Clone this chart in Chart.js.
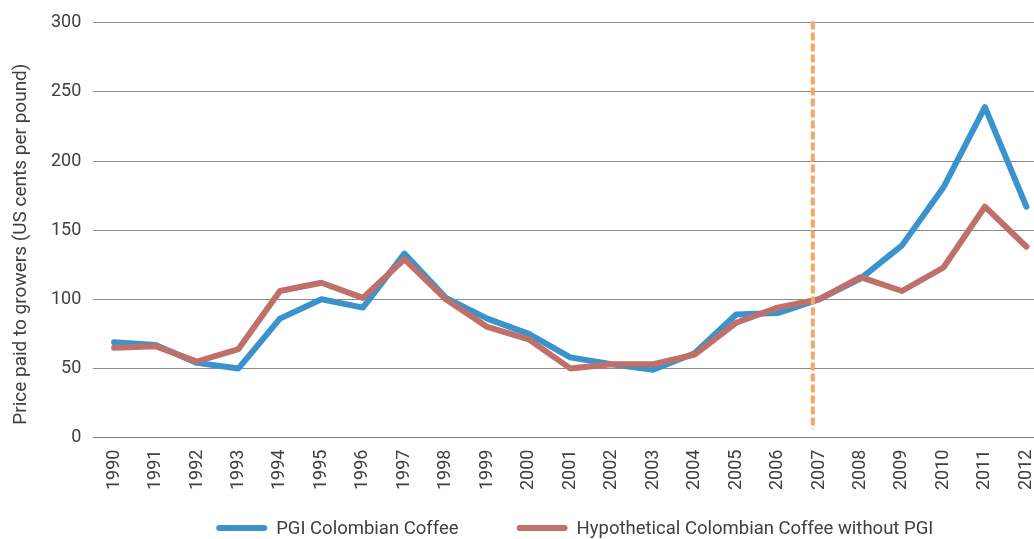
<!DOCTYPE html>
<html>
<head>
<meta charset="utf-8">
<script src="https://cdn.jsdelivr.net/npm/chart.js@4.4.1/dist/chart.umd.min.js"></script>
<style>
  html, body { margin: 0; padding: 0; background: #fff; overflow: hidden; }
  #wrap { width: 1060px; height: 539px; position: relative; }
</style>
</head>
<body>
<div id="wrap"><canvas id="c"></canvas></div>
<script>
const years = ['1990','1991','1992','1993','1994','1995','1996','1997','1998','1999','2000','2001','2002','2003','2004','2005','2006','2007','2008','2009','2010','2011','2012'];
const pgiValues = [69, 67, 54, 50, 86, 100, 94, 133, 101, 86, 75, 58, 53, 49, 61, 89, 90, 100, 115, 139, 181, 239, 167];
const noPgiValues = [65, 66, 55, 64, 106, 112, 101, 129, 100, 80, 71, 50, 53, 53, 60, 83, 94, 100, 116, 106, 123, 167, 138];
const yTicks = [0, 50, 100, 150, 200, 250, 300];
const seriesNames = ['PGI Colombian Coffee', 'Hypothetical Colombian Coffee without PGI'];
const yTitle = 'Price paid to growers (US cents per pound)';
const markerIndex = 16.85;   // dashed marker just before 2007
const markerRange = [6, 301];

const textColor = '#404040';
const fontFamily = 'Roboto, "Liberation Sans", Arial, sans-serif';

const markerPlugin = {
  id: 'marker',
  afterDatasetsDraw(chart) {
    const x = chart.scales.x.getPixelForValue(markerIndex);
    const y1 = chart.scales.y.getPixelForValue(markerRange[1]);
    const y0 = chart.scales.y.getPixelForValue(markerRange[0]);
    const ctx = chart.ctx;
    ctx.save();
    ctx.strokeStyle = '#f4a766';
    ctx.lineWidth = 4;
    ctx.setLineDash([8, 3]);
    ctx.beginPath();
    ctx.moveTo(x, y1);
    ctx.lineTo(x, y0);
    ctx.stroke();
    ctx.restore();
  }
};

const annotationPlugin = {
  id: 'customLegendAndTitle',
  afterDraw(chart) {
    const ctx = chart.ctx;
    const ds = chart.data.datasets;
    // y-axis title
    ctx.save();
    ctx.font = '19px ' + fontFamily;
    ctx.fillStyle = textColor;
    ctx.textAlign = 'center';
    ctx.textBaseline = 'middle';
    ctx.translate(21, (chart.chartArea.top + chart.chartArea.bottom) / 2 + 14);
    ctx.rotate(-Math.PI / 2);
    ctx.fillText(yTitle, 0, 0);
    ctx.restore();
    // legend
    const fontSize = 18.5;
    const boxW = 51, boxH = 6, textGap = 9, itemGap = 58;
    ctx.save();
    ctx.font = fontSize + 'px ' + fontFamily;
    const widths = ds.map(d => ctx.measureText(d.label).width);
    let total = 0;
    widths.forEach((w, i) => { total += boxW + textGap + w + (i < widths.length - 1 ? itemGap : 0); });
    const centerX = (chart.chartArea.left + chart.scales.x.getPixelForValue(years.length - 0.5)) / 2 + 4.5;
    let x = centerX - total / 2;
    const y = chart.height - 11;
    ds.forEach((d, i) => {
      ctx.fillStyle = d.borderColor;
      ctx.beginPath();
      ctx.roundRect(x, y - boxH / 2, boxW, boxH, boxH / 2);
      ctx.fill();
      ctx.fillStyle = textColor;
      ctx.textBaseline = 'middle';
      ctx.textAlign = 'left';
      ctx.fillText(d.label, x + boxW + textGap, y + 1);
      x += boxW + textGap + widths[i] + itemGap;
    });
    ctx.restore();
  }
};

new Chart(document.getElementById('c'), {
  type: 'line',
  data: {
    labels: years,
    datasets: [
      { label: seriesNames[0], data: pgiValues, borderColor: '#3b93cd', backgroundColor: '#3b93cd',
        borderWidth: 6, pointRadius: 0, tension: 0, borderCapStyle: 'round', borderJoinStyle: 'round', order: 1 },
      { label: seriesNames[1], data: noPgiValues, borderColor: '#c0706a', backgroundColor: '#c0706a',
        borderWidth: 6, pointRadius: 0, tension: 0, borderCapStyle: 'round', borderJoinStyle: 'round', order: 0 }
    ]
  },
  options: {
    responsive: true,
    maintainAspectRatio: false,
    animation: false,
    layout: { padding: { top: 11, left: 39, right: 0, bottom: 37 } },
    plugins: {
      tooltip: { enabled: false },
      legend: { display: false }
    },
    scales: {
      x: {
        offset: true,
        grid: { display: false, drawTicks: false },
        border: { display: true, color: '#808080', width: 1 },
        ticks: { color: textColor, font: { family: fontFamily, size: 18 }, maxRotation: 90, minRotation: 90, padding: 12, autoSkip: false }
      },
      y: {
        min: 0, max: 300,
        afterBuildTicks(scale) { scale.ticks = yTicks.map(v => ({ value: v })); },
        grid: { color: '#8a8a8a', lineWidth: 1, drawTicks: false },
        border: { display: false },
        ticks: { color: textColor, font: { family: fontFamily, size: 18 }, padding: 12 }
      }
    }
  },
  plugins: [markerPlugin, annotationPlugin]
});
</script>
</body>
</html>
